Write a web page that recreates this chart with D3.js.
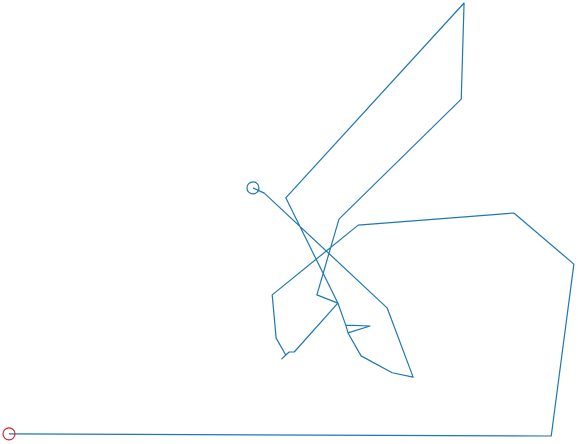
<!DOCTYPE html>
<html>
<head>
<meta charset="utf-8">
<script src="https://cdn.jsdelivr.net/npm/d3@7"></script>
<style>
  html, body { margin: 0; padding: 0; background: #fff; }
  svg { display: block; }
</style>
</head>
<body>
<svg id="chart" width="578" height="444"></svg>
<script>
// Path of a walk (arbitrary units), start -> end
const walkX = [43.1, 45.1, 66.8, 71.4, 67.7, 62.2, 59.9, 59.5, 63.8, 59.9, 59.5, 58.1, 54.4, 58.3, 79.9, 80.4, 48.9, 58.1, 50.4, 49.5, 48.9, 48.2, 48.9, 47.2, 46.5, 61.7, 89.2, 99.8, 95.8, 0.0];
const walkY = [57.3, 56.1, 29.6, 13.6, 14.6, 18.5, 23.8, 25.6, 25.4, 23.8, 25.6, 30.7, 32.6, 50.1, 77.8, 100.0, 55.0, 30.7, 19.4, 19.4, 18.7, 17.8, 18.7, 22.6, 32.6, 48.7, 51.5, 39.7, 0.0, 0.5];

const points = walkX.map((x, i) => ({ x, y: walkY[i] }));

const svg = d3.select("#chart");
const xScale = d3.scaleLinear().domain([0, 100]).range([9, 575]);
const yScale = d3.scaleLinear().domain([0, 100]).range([436, 3]);

const line = d3.line().x(d => xScale(d.x)).y(d => yScale(d.y));

svg.append("path")
  .datum(points)
  .attr("d", line)
  .attr("fill", "none")
  .attr("stroke", "#1f77b4")
  .attr("stroke-width", 1.2)
  .attr("stroke-linejoin", "round");

const first = points[0];
const last = points[points.length - 1];

svg.append("circle")
  .attr("cx", xScale(first.x))
  .attr("cy", yScale(first.y))
  .attr("r", 6)
  .attr("fill", "none")
  .attr("stroke", "#1f77b4")
  .attr("stroke-width", 1.2);

svg.append("circle")
  .attr("cx", xScale(last.x))
  .attr("cy", yScale(last.y))
  .attr("r", 6)
  .attr("fill", "none")
  .attr("stroke", "#d62728")
  .attr("stroke-width", 1.2);
</script>
</body>
</html>
